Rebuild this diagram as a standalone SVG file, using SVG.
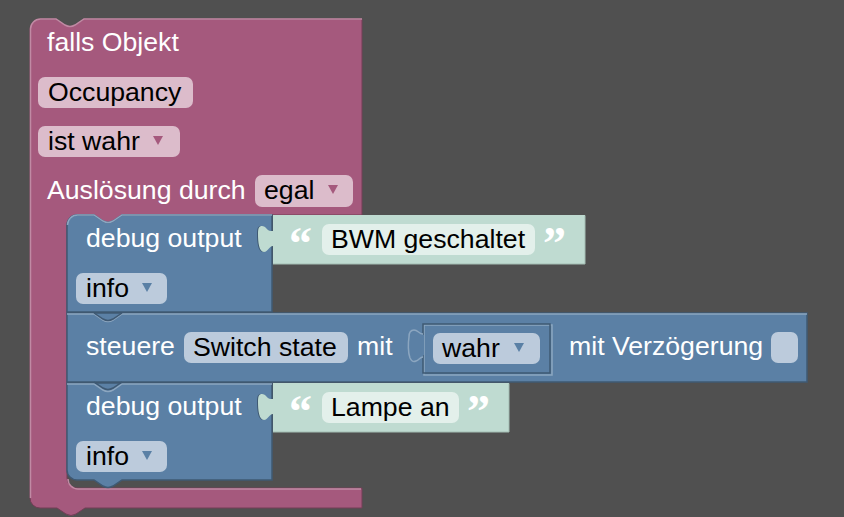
<svg xmlns="http://www.w3.org/2000/svg" width="844" height="517" viewBox="0 0 844 517">
<style>
text{font-family:"Liberation Sans",Arial,sans-serif;font-size:26.67px}
.w{fill:#fff}.k{fill:#000}
.pf{fill:#dcbccb}.bf{fill:#bccbdc}.gf{fill:#e3f0eb}
.pa{fill:#a5597d}.ba{fill:#5a80a5}
.pink{fill:#a5597d;stroke:#733e57;stroke-width:1}
.blue{fill:#5b80a5;stroke:#3f5973;stroke-width:1.500}
.green{fill:#bfdbd1;stroke:#a3bdb3;stroke-width:1}
.hp{fill:none;stroke:#c08aa4;stroke-width:1.500}
.hb{fill:none;stroke:#8ca6c0;stroke-width:1.500}
text.q{font-family:"Liberation Serif",serif;font-size:46px;font-weight:bold;fill:#fff}
</style>
<rect width="844" height="517" fill="#505050"/>
<g id="falls-objekt">
<path class="pink" d="M30 29a10 10 0 0 1 10-10H56l9 6q5 3 10 0l9-6H362V215H122l-9 6q-5 3-10 0l-9-6H77a10 10 0 0 0-10 10V478a10 10 0 0 0 10 10H362V508H85l-9 6q-5 3-10 0l-9-6H40a10 10 0 0 1-10-10Z"/>
<path class="hp" d="M30.500 498V29a10 10 0 0 1 10-10H56l9 6q5 3 10 0l9-6H362"/>
<path class="hp" d="M68 479a10 10 0 0 0 10 10H361"/>
<text class="w" x="47" y="51">falls Objekt</text>
<rect class="pf" x="38" y="77" width="155" height="31" rx="7"/>
<text class="k" x="48" y="101">Occupancy</text>
<rect class="pf" x="38" y="126" width="142" height="31" rx="7"/>
<text class="k" x="48" y="150">ist wahr</text>
<path class="pa" d="M153 136h10l-5 9Z"/>
<text class="w" x="47" y="199">Auslösung durch</text>
<rect class="pf" x="255" y="175" width="98" height="32" rx="7"/>
<text class="k" x="264" y="199">egal</text>
<path class="pa" d="M328 185h10l-5 9Z"/>
</g>
<g id="debug-1">
<path class="blue" d="M67 225a10 10 0 0 1 10-10H94l9 6q5 3 10 0l9-6H272V312H67Z"/>
<path class="hb" d="M67.500 225a10 10 0 0 1 10-10H94l9 6q5 3 10 0l9-6H272"/>
<text class="w" x="86" y="247">debug output</text>
<rect class="bf" x="76" y="273" width="91" height="31" rx="7"/>
<text class="k" x="86" y="297">info</text>
<path class="ba" d="M142 283h10l-5 9Z"/>
</g>
<g id="text-1">
<path d="M272 231c-5 0-6-5-10-5c-3 0-4 2-4 8c0 8 1 18 6 18c4 0 4-6 8-6Z" fill="#3f5973" transform="translate(-1 0)"/>
<path d="M273 215H585V264H273V246c-4 0-5 6-9 6c-5 0-6-10-6-18c0-6 1-8 4-8c4 0 5 5 9 5h2Z" fill="#bfdbd1"/>
<path d="M585 215.500V264H273" fill="none" stroke="#a3bdb3" stroke-width="1"/>
<text class="q" x="289" y="259">“</text>
<rect class="gf" x="322" y="224" width="213" height="31" rx="7"/>
<text class="k" x="331" y="248">BWM geschaltet</text>
<text class="q" x="543" y="259">”</text>
</g>
<g id="steuere">
<path class="blue" d="M67 313H807V382H67Z"/>
<path class="hb" d="M67 314H94l9 6q5 3 10 0l9-6H807"/>
<path d="M94 313l9 6q5 3 10 0l9-6" fill="none" stroke="#3f5973" stroke-width="1.500"/>
<text class="w" x="86" y="355">steuere</text>
<rect class="bf" x="184" y="332" width="164" height="31" rx="7"/>
<text class="k" x="193" y="356">Switch state</text>
<text class="w" x="357" y="355">mit</text>
<path class="hb" d="M424 325H552V375H424Z"/>
<path d="M423 324H550V373H423Z" fill="none" stroke="#3f5973" stroke-width="1.500"/>
<path d="M423 334c-4 0-5-4-9-4c-3 0-5 2-5 7c-1 6-1 16 1 21c2 4 4 4 6 3c3-1 4-4 7-4" fill="#5b80a5" stroke="#8ca6c0" stroke-width="1.500"/>
<path d="M423 335V355" stroke="#5b80a5" stroke-width="2"/>
<rect class="bf" x="433" y="333" width="107" height="31" rx="7"/>
<text class="k" x="442" y="357">wahr</text>
<path class="ba" d="M514 343h10l-5 9Z"/>
<text class="w" x="569" y="355">mit Verzögerung</text>
<rect class="bf" x="771" y="332" width="27" height="31" rx="7"/>
</g>
<g id="debug-2">
<path class="blue" d="M67 383H272V480H122l-9 6q-5 3-10 0l-9-6H77a10 10 0 0 1-10-10Z"/>
<path class="hb" d="M67 384H94l9 6q5 3 10 0l9-6H272"/>
<path d="M94 382l9 6q5 3 10 0l9-6" fill="none" stroke="#3f5973" stroke-width="1.500"/>
<text class="w" x="86" y="415">debug output</text>
<rect class="bf" x="76" y="441" width="91" height="31" rx="7"/>
<text class="k" x="86" y="465">info</text>
<path class="ba" d="M142 451h10l-5 9Z"/>
</g>
<g id="text-2">
<path d="M272 399c-5 0-6-5-10-5c-3 0-4 2-4 8c0 8 1 18 6 18c4 0 4-6 8-6Z" fill="#3f5973" transform="translate(-1 0)"/>
<path d="M273 383H509V432H273V414c-4 0-5 6-9 6c-5 0-6-10-6-18c0-6 1-8 4-8c4 0 5 5 9 5h2Z" fill="#bfdbd1"/>
<path d="M509 383.500V432H273" fill="none" stroke="#a3bdb3" stroke-width="1"/>
<text class="q" x="289" y="427">“</text>
<rect class="gf" x="322" y="392" width="137" height="31" rx="7"/>
<text class="k" x="331" y="416">Lampe an</text>
<text class="q" x="467" y="427">”</text>
</g>
</svg>
